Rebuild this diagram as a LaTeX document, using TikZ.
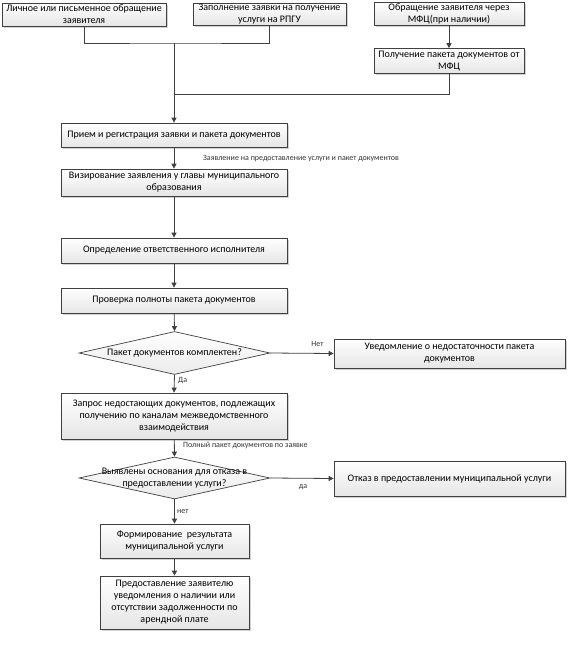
\documentclass[tikz,border=0pt]{standalone}
\usepackage{fontspec}
\setmainfont{Carlito}
\usetikzlibrary{arrows.meta,shapes.geometric,shadows}
\tikzset{
  box/.style={draw=black!75, line width=0.7pt, top color=white, bottom color=black!10,
    drop shadow={shadow xshift=1.5pt, shadow yshift=-1.5pt, fill=black!35},
    align=center, inner sep=1pt, font=\fontsize{10}{12}\selectfont},
  dia/.style={draw=black!75, line width=0.7pt, shape=diamond, top color=white, bottom color=black!8,
    inner sep=0pt},
  dtext/.style={align=center, inner sep=0pt, font=\fontsize{10}{12}\selectfont},
  conn/.style={draw=black!75, line width=0.8pt},
  arr/.style={conn, -{Triangle[length=5pt,width=5pt]}},
  lab/.style={inner sep=0pt, font=\fontsize{8}{9}\selectfont, text=black!80}
}
\begin{document}
\begin{tikzpicture}[x=1pt,y=-1pt]
\path[use as bounding box, fill=white] (0,0) rectangle (578,657);
% top row
\node[box, minimum width=164pt, minimum height=23pt] (A) at (84,14.5) {Личное или письменное обращение\\заявителя};
\node[box, minimum width=153pt, minimum height=22pt] (B) at (269.5,14) {Заполнение заявки на получение\\услуги на РПГУ};
\node[box, minimum width=150pt, minimum height=22pt] (C) at (449,14) {Обращение заявителя через\\МФЦ(при наличии)};
\node[box, minimum width=150pt, minimum height=25pt] (D) at (449,61) {Получение пакета документов от\\МФЦ};
% main column
\node[box, minimum width=226pt, minimum height=24pt] (E) at (174,135) {Прием и регистрация заявки и пакета документов};
\node[box, minimum width=226pt, minimum height=27pt] (F) at (174,182.5) {Визирование заявления у главы муниципального\\образования};
\node[box, minimum width=226pt, minimum height=25pt] (G) at (174,250.5) {Определение ответственного исполнителя};
\node[box, minimum width=226pt, minimum height=25pt] (H) at (174,300.5) {Проверка полноты пакета документов};
\node[dia, minimum width=191pt, minimum height=43pt] (D1) at (174.5,353) {};
\node[dtext] (D1t) at (D1) {Пакет документов комплектен?};
\node[box, minimum width=231pt, minimum height=29pt] (I) at (449.5,353.5) {Уведомление о недостаточности пакета\\документов};
\node[box, minimum width=226pt, minimum height=46pt] (J) at (174,416) {Запрос недостающих документов, подлежащих\\получению по каналам межведомственного\\взаимодействия};
\node[dia, minimum width=191pt, minimum height=42pt] (D2) at (174.5,478) {};
\node[dtext] (D2t) at (D2) {Выявлены основания для отказа в\\предоставлении услуги?};
\node[box, minimum width=231pt, minimum height=35pt] (K) at (449.5,478.5) {Отказ в предоставлении муниципальной услуги};
\node[box, minimum width=149pt, minimum height=34pt] (L) at (174.5,541) {Формирование\ \ результата\\муниципальной услуги};
\node[box, minimum width=149pt, minimum height=53pt] (M) at (174.5,602.5) {Предоставление заявителю\\уведомления о наличии или\\отсутствии задолженности по\\арендной плате};
% junctions
\coordinate (m1) at (174,43);
\coordinate (m2) at (174,94);
% connectors
\draw[conn] (A.south) |- (m1) -| (B.south);
\draw[conn] (D.south) |- (m2);
\draw[arr] (C) -- (D);
\draw[arr] (m1) -- (E.north);
\draw[arr] (E) -- (F);
\draw[arr] (F) -- (G);
\draw[arr] (G) -- (H);
\draw[arr] (H) -- (D1.north);
\draw[arr] (D1.east) -- (I.west);
\draw[arr] (D1.south) -- (J.north);
\draw[arr] (J) -- (D2.north);
\draw[arr] (D2.east) -- (K.west);
\draw[arr] (D2.south) -- (L.north);
\draw[arr] (L) -- (M);
% labels
\node[lab, anchor=west] (l1) at (203,159) {Заявление на предоставление услуги и пакет документов};
\node[lab] (l2) at (317.5,344) {Нет};
\node[lab, anchor=west] (l3) at (178,380.5) {Да};
\node[lab, anchor=west] (l4) at (183,445) {Полный пакет документов по заявке};
\node[lab] (l5) at (303,487) {да};
\node[lab, anchor=west] (l6) at (177,512) {нет};
\end{tikzpicture}
\end{document}
